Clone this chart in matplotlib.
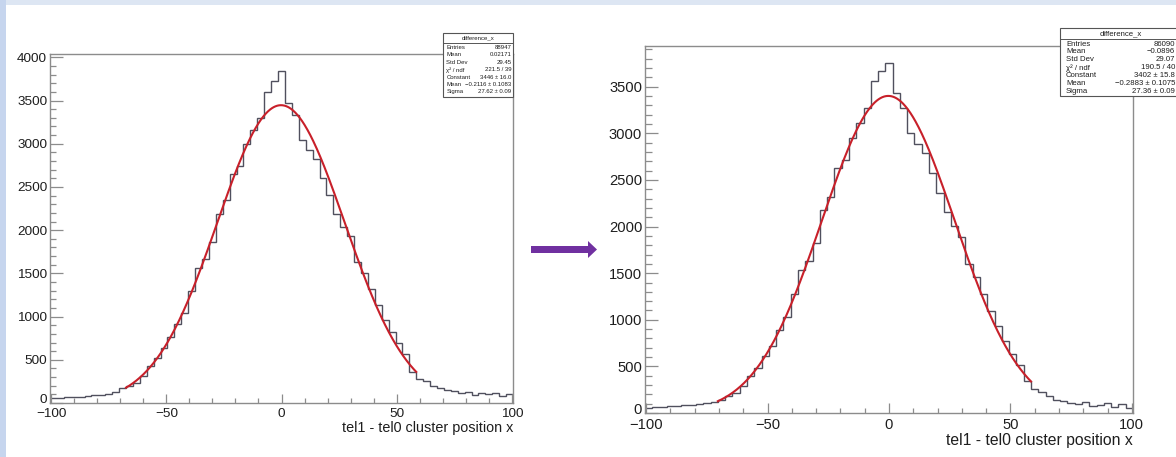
import numpy as np
import matplotlib
matplotlib.use("Agg")
import matplotlib.pyplot as plt
from matplotlib.patches import Rectangle, FancyArrow
from matplotlib.ticker import MultipleLocator
from matplotlib.transforms import ScaledTranslation

plt.rcParams['font.family'] = ['Liberation Sans', 'DejaVu Sans']

W, H = 1176, 457
DPI = 100

# 67 bins of width 3, centred on multiples of 3 from -99 to 99
bin_edges = np.arange(-100.5, 100.6, 3.0)

counts_before = [
    55, 62, 68, 75, 70, 82, 88, 95, 105, 125,
    170, 200, 230, 308, 423, 519, 642, 762, 915, 1046,
    1300, 1558, 1665, 1858, 2192, 2346, 2654, 2742, 2992, 3154,
    3300, 3604, 3731, 3846, 3473, 3327, 3038, 2931, 2827, 2608,
    2404, 2192, 2038, 1931, 1627, 1508, 1315, 1135, 962, 827,
    692, 569, 354, 277, 250, 192, 173, 146, 135, 115,
    123, 96, 115, 104, 115, 77, 104,
]
counts_after = [
    50, 62, 68, 72, 80, 85, 90, 98, 105, 118,
    140, 185, 210, 286, 393, 482, 607, 721, 893, 1029,
    1279, 1536, 1636, 1829, 2179, 2321, 2625, 2714, 2946, 3114,
    3268, 3564, 3671, 3750, 3429, 3268, 3000, 2882, 2793, 2571,
    2364, 2161, 2007, 1893, 1600, 1464, 1279, 1089, 929, 768,
    636, 518, 339, 257, 221, 179, 143, 125, 107, 100,
    114, 71, 89, 107, 64, 100, 54,
]

# Gaussian fit results and fit ranges
fit_before = (3446.0, -0.2116, 27.62, -67.5, 58.5)
fit_after = (3402.0, -0.2883, 27.36, -70.5, 58.5)

stats_title = "difference_x"
stats_labels = ["Entries", "Mean", "Std Dev", "\u03c7\u00b2 / ndf", "Constant", "Mean", "Sigma"]
stats_before = ["88947", "0.02171", "29.45", "221.5 / 39", "3446 \u00b1 16.0",
                "\u22120.2116 \u00b1 0.1083", "27.62 \u00b1 0.09"]
stats_after = ["86090", "\u22120.0896", "29.07", "190.5 / 40", "3402 \u00b1 15.8",
               "\u22120.2883 \u00b1 0.1075", "27.36 \u00b1 0.09"]

x_title = "tel1 - tel0 cluster position x"

HIST_COLOR = "#50505e"
FIT_COLOR = "#c8202a"
FRAME_COLOR = "#8c8c8c"
TEXT_COLOR = "#1e1e1e"

fig = plt.figure(figsize=(W / DPI, H / DPI), dpi=DPI, facecolor="white")

# pixel-coordinate layers behind and in front of the panels
bg = fig.add_axes([0, 0, 1, 1], zorder=-5)
bg.set_xlim(0, W); bg.set_ylim(H, 0); bg.axis("off")
bg.add_patch(Rectangle((0, 0), W, 5, color="#dde6f3", lw=0))
bg.add_patch(Rectangle((0, 0), 6, H, color="#c6d5ee", lw=0))


def panel(rect_px, counts, fit, label_size, title_y_px):
    x0, x1, y0, y1 = rect_px  # left, right, top, bottom in pixels
    ax = fig.add_axes([x0 / W, 1 - y1 / H, (x1 - x0) / W, (y1 - y0) / H], zorder=1)
    ax.set_facecolor("white")
    counts = np.asarray(counts, dtype=float)
    ax.stairs(counts, bin_edges, baseline=None, color=HIST_COLOR, lw=1.0)
    c, mu, s, lo, hi = fit
    xf = np.linspace(lo, hi, 500)
    ax.plot(xf, c * np.exp(-0.5 * ((xf - mu) / s) ** 2), color=FIT_COLOR, lw=1.5)
    ax.set_xlim(bin_edges[0], bin_edges[-1])
    ax.set_ylim(0, 1.05 * counts.max())
    ax.xaxis.set_major_locator(MultipleLocator(50))
    ax.xaxis.set_minor_locator(MultipleLocator(10))
    ax.yaxis.set_major_locator(MultipleLocator(500))
    ax.yaxis.set_minor_locator(MultipleLocator(100))
    hpx = y1 - y0
    wpx = x1 - x0
    ax.tick_params(axis="x", which="major", direction="in", length=0.027 * hpx * 0.72,
                   width=0.9, color=FRAME_COLOR, labelsize=label_size, pad=3.5,
                   labelcolor=TEXT_COLOR)
    ax.tick_params(axis="x", which="minor", direction="in", length=0.0135 * hpx * 0.72,
                   width=0.9, color=FRAME_COLOR)
    ax.tick_params(axis="y", which="major", direction="in", length=0.027 * wpx * 0.72,
                   width=0.9, color=FRAME_COLOR, labelsize=label_size, pad=2,
                   labelcolor=TEXT_COLOR)
    ax.tick_params(axis="y", which="minor", direction="in", length=0.0135 * wpx * 0.72,
                   width=0.9, color=FRAME_COLOR)
    for sp in ax.spines.values():
        sp.set_color(FRAME_COLOR)
        sp.set_linewidth(1.0)
    ax.text(1.0, (y1 - title_y_px) / hpx, x_title, transform=ax.transAxes,
            ha="right", va="center", fontsize=label_size * 1.07, color=TEXT_COLOR)
    # lift the "0" label at the corner so it sits just above the first x label
    fig.canvas.draw()
    for lbl in ax.get_yticklabels():
        if lbl.get_text() in ("0", "\u22120"):
            lbl.set_transform(lbl.get_transform() + ScaledTranslation(0, 3 / 72, fig.dpi_scale_trans))
    return ax


ax1 = panel((50, 513, 54, 403), counts_before, fit_before, 9.7, 428)
ax2 = panel((645, 1133, 46, 413), counts_after, fit_after, 10.6, 440)

fg = fig.add_axes([0, 0, 1, 1], zorder=5)
fg.set_xlim(0, W); fg.set_ylim(H, 0); fg.axis("off")
fg.patch.set_alpha(0)


def stats_box(left, right, top, bottom, sep, title_y, row0, dy, fs, pad, text_right, values):
    fg.add_patch(Rectangle((left, top), right - left, bottom - top, facecolor="white",
                           edgecolor="#555555", lw=0.8))
    fg.plot([left, right], [sep, sep], color="#555555", lw=0.7)
    fg.text((left + right) / 2, title_y, stats_title, ha="center", va="center",
            fontsize=fs, color=TEXT_COLOR)
    for i, (lab, val) in enumerate(zip(stats_labels, values)):
        y = row0 + i * dy
        fg.text(left + pad, y, lab, ha="left", va="center", fontsize=fs, color=TEXT_COLOR)
        fg.text(text_right, y, val, ha="right", va="center", fontsize=fs, color=TEXT_COLOR)


stats_box(443, 513, 33, 97, 43, 38.2, 47.5, 7.4, 4.3, 3.5, 511.5, stats_before)
stats_box(1060, 1182, 28, 96, 39, 33.5, 44, 7.9, 5.6, 6, 1175, stats_after)

# arrow between the two panels
fg.add_patch(FancyArrow(531, 249.5, 66, 0, width=7, head_width=17, head_length=9,
                        length_includes_head=True, color="#7030a0", lw=0))

fig.savefig("out.png", dpi=DPI, facecolor="white")
